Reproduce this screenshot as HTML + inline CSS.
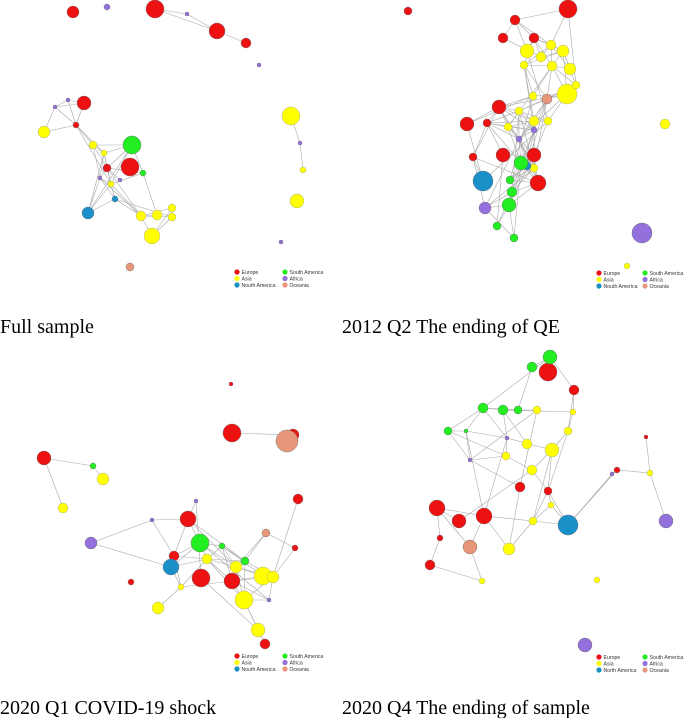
<!DOCTYPE html>
<html><head><meta charset="utf-8">
<style>
html,body{margin:0;padding:0;background:#fff;}
svg{display:block;}
.t{font-family:"Liberation Serif",serif;font-size:20px;fill:#000;}
.lg{font-family:"Liberation Sans",sans-serif;font-size:5.2px;fill:#333;}
</style></head>
<body>
<svg id="fig" width="685" height="718" viewBox="0 0 685 718" xmlns="http://www.w3.org/2000/svg">
<g id="edges"></g>
<g id="nodes"></g>
<g id="legends"></g>
<text class="t" x="0" y="333">Full sample</text>
<text class="t" x="342" y="333">2012 Q2 The ending of QE</text>
<text class="t" x="0" y="714">2020 Q1 COVID-19 shock</text>
<text class="t" x="342" y="714">2020 Q4 The ending of sample</text>
</svg>
<script>
const regionNames = ["Europe","Asia","Nouth America","South America","Africa","Oceania"];
const regionColors = ["#ee1111","#ffff00","#1a8fc8","#22ee22","#9370db","#e8967a"];
// node data: [x, y, radius, region index]
const panel1Nodes = [[73,12,6,0],[155,9,9,0],[217,31,8,0],[246,43,5,0],[84,103,7,0],[76,125,3,0],[130,167,9,0],[107,168,4,0],
[107,7,3,4],[187,14,2,4],[259,65,2,4],[55,107,2,4],[68,100,2,4],[300,143,2,4],[281,242,2,4],[120,180,2,4],[100,178,2,4],
[291,116,9,1],[44,132,6,1],[93,145,4,1],[104,153,3,1],[303,170,3,1],[297,201,7,1],[141,216,5,1],[157,215,5,1],[172,217,4,1],[172,208,4,1],[152,236,8,1],[111,184,3,1],
[132,145,9,3],[143,173,3,3],[88,213,6,2],[115,199,3,2],[130,267,4,5]];
const panel2Nodes = [[408,11,4,0],[568,9,9,0],[515,20,5,0],[503,38,5,0],[534,38,5,0],[499,107,7,0],[467,124,7,0],[487,123,4,0],[534,155,7,0],[503,155,7,0],[473,157,4,0],[538,183,8,0],
[527,51,7,1],[551,45,5,1],[563,51,6,1],[541,57,5,1],[524,65,4,1],[552,66,5,1],[570,69,6,1],[567,94,10,1],[576,85,4,1],[533,96,4,1],[519,111,4,1],[534,121,5,1],[548,121,4,1],[508,127,4,1],[665,124,5,1],[627,266,3,1],[534,168,4,1],
[547,99,5,5],[483,181,10,2],[527,166,4,2],
[521,163,7,3],[510,180,4,3],[509,205,7,3],[512,192,5,3],[497,226,4,3],[514,238,4,3],
[485,208,6,4],[642,233,10,4],[519,139,3,4],[534,130,3,4]];
const panel3Nodes = [[231,384,2,0],[232,433,9,0],[293,435,6,0],[44,458,7,0],[188,519,8,0],[298,499,5,0],[201,578,9,0],[232,581,8,0],[295,548,3,0],[131,582,3,0],[265,644,5,0],[174,556,5,0],
[287,441,11,5],[266,533,4,5],
[103,479,6,1],[63,508,5,1],[158,608,6,1],[236,567,6,1],[263,576,9,1],[273,577,6,1],[244,600,9,1],[258,630,7,1],[207,559,5,1],[181,587,3,1],
[93,466,3,3],[200,543,9,3],[245,561,4,3],[222,546,3,3],
[171,567,8,2],[91,543,6,4],[196,501,2,4],[152,520,2,4],[269,600,2,4]];
const panel4Nodes = [[548,372,9,0],[574,390,5,0],[437,508,8,0],[459,521,7,0],[484,516,8,0],[430,565,5,0],[440,538,3,0],[617,470,3,0],[646,437,2,0],[520,487,5,0],[548,491,4,0],
[550,357,7,3],[532,367,5,3],[483,408,5,3],[503,410,5,3],[518,410,4,3],[448,431,4,3],[466,431,2,3],
[537,410,4,1],[573,412,3,1],[568,431,4,1],[527,444,5,1],[552,450,7,1],[506,456,4,1],[532,470,5,1],[551,505,3,1],[533,521,4,1],[509,549,6,1],[482,581,3,1],[597,580,3,1],[650,473,3,1],
[470,547,7,5],[568,525,10,2],[666,521,7,4],[585,645,7,4],[507,438,2,4],[470,460,2,4],[612,474,2,4]];
const panels = [panel1Nodes, panel2Nodes, panel3Nodes, panel4Nodes];
const legendOrigins = [[237,272],[599,273],[237,656],[599,657]];
const legendColGap = [48,46,48,46];
const NS = "http://www.w3.org/2000/svg";
const eg = document.getElementById('edges'), ng = document.getElementById('nodes'), lg = document.getElementById('legends');
panels.forEach((nodes, p) => {
  for (let i = 0; i < nodes.length; i++) for (let j = i+1; j < nodes.length; j++) {
    const dx = nodes[i][0]-nodes[j][0], dy = nodes[i][1]-nodes[j][1];
    const d = Math.hypot(dx, dy);
    if ((d < 42 && (i*7+j*3) % 3 !== 0) || (d >= 42 && d < 90 && (i*5+j*11) % 9 === 0)) {
      const l = document.createElementNS(NS,'line');
      l.setAttribute('x1',nodes[i][0]);l.setAttribute('y1',nodes[i][1]);
      l.setAttribute('x2',nodes[j][0]);l.setAttribute('y2',nodes[j][1]);
      l.setAttribute('stroke','#aaa');l.setAttribute('stroke-width','0.6');
      
      
      eg.appendChild(l);
    }
  }
  nodes.forEach(n => {
    const c = document.createElementNS(NS,'circle');
    c.setAttribute('cx',n[0]);c.setAttribute('cy',n[1]);c.setAttribute('r',n[2]);
    c.setAttribute('fill',regionColors[n[3]]);
    c.setAttribute('stroke',n[3]===1?'#999':'#666');c.setAttribute('stroke-width','0.4');
    
    
    ng.appendChild(c);
  });
  const [lx, ly] = legendOrigins[p];
  regionNames.forEach((name, k) => {
    const col = Math.floor(k/3), row = k%3;
    const x = lx + col*legendColGap[p], y = ly + row*6.5;
    const c = document.createElementNS(NS,'circle');
    c.setAttribute('cx',x);c.setAttribute('cy',y);c.setAttribute('r',2.6);
    c.setAttribute('fill',regionColors[k]);
    
    
    lg.appendChild(c);
    const t = document.createElementNS(NS,'text');
    t.setAttribute('x',x+4.5);t.setAttribute('y',y+2);t.setAttribute('class','lg');
    t.textContent = (p===3 && k===2) ? "North America" : name;
    
    
    lg.appendChild(t);
  });
});
</script>
</body></html>
